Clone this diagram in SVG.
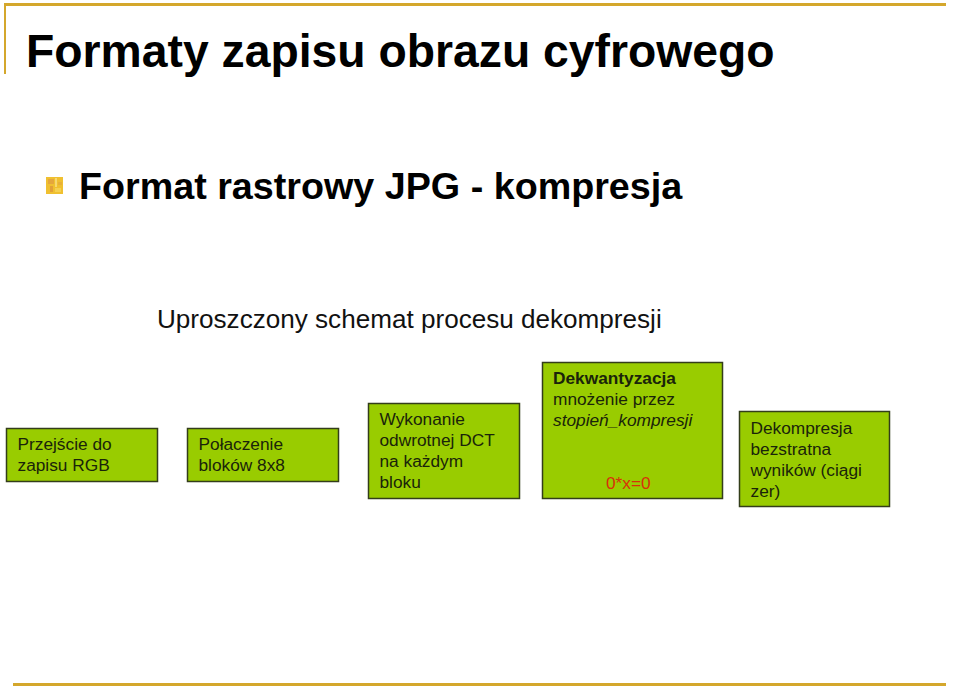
<svg xmlns="http://www.w3.org/2000/svg" width="960" height="687" viewBox="0 0 960 687">
<style>
text{font-family:"Liberation Sans",Arial,sans-serif;fill:#1a240a}
.rule{fill:#d4a72c}
.box{fill:#99cc00;stroke:#333d1a;stroke-width:1.5}
.t{font-size:17.3px}
</style>
<rect width="960" height="687" fill="#fff"/>
<rect class="rule" x="4" y="3" width="942" height="3"/>
<rect class="rule" x="4" y="3" width="2" height="71"/>
<rect class="rule" x="13" y="683" width="933" height="3"/>
<text x="26" y="67" font-size="46.3" font-weight="bold" style="fill:#000">Formaty zapisu obrazu cyfrowego</text>
<g id="bullet"><rect x="46" y="177" width="17" height="17" fill="#f0c030"/><rect x="48" y="179" width="6" height="5" fill="#e5a63c"/><rect x="55" y="178" width="2" height="9" fill="#f7d870"/><rect x="50" y="186" width="3" height="6" fill="#e2a038"/><rect x="58" y="182" width="4" height="3" fill="#e8b038"/><rect x="55" y="188" width="6" height="4" fill="#f5d050"/></g>
<text x="79" y="199" font-size="37.7" font-weight="bold" style="fill:#000">Format rastrowy JPG - kompresja</text>
<text x="157" y="328" font-size="26.1" style="fill:#111">Uproszczony schemat procesu dekompresji</text>
<g id="node1"><rect class="box" x="6.500" y="428.500" width="151" height="53"/><text class="t" x="17.500" y="450">Przejście do</text><text class="t" x="17.500" y="471">zapisu RGB</text></g>
<g id="node2"><rect class="box" x="187.500" y="428.500" width="151" height="53"/><text class="t" x="198.500" y="450">Połaczenie</text><text class="t" x="198.500" y="471">bloków 8x8</text></g>
<g id="node3"><rect class="box" x="368.500" y="403.500" width="151" height="95"/><text class="t" x="379.500" y="425">Wykonanie</text><text class="t" x="379.500" y="446">odwrotnej DCT</text><text class="t" x="379.500" y="467">na każdym</text><text class="t" x="379.500" y="488">bloku</text></g>
<g id="node4"><rect class="box" x="542.500" y="362.500" width="180" height="136"/><text class="t" x="553" y="384" font-weight="bold">Dekwantyzacja</text><text class="t" x="553" y="405">mnożenie przez</text><text class="t" x="553" y="426" font-style="italic">stopień_kompresji</text><text class="t" x="606" y="489" style="fill:#d9300a">0*x=0</text></g>
<g id="node5"><rect class="box" x="739.500" y="411.500" width="150" height="95"/><text class="t" x="750.500" y="433.500">Dekompresja</text><text class="t" x="750.500" y="455">bezstratna</text><text class="t" x="750.500" y="476">wyników (ciągi</text><text class="t" x="750.500" y="497">zer)</text></g>
<g id="connectors"></g>
</svg>
